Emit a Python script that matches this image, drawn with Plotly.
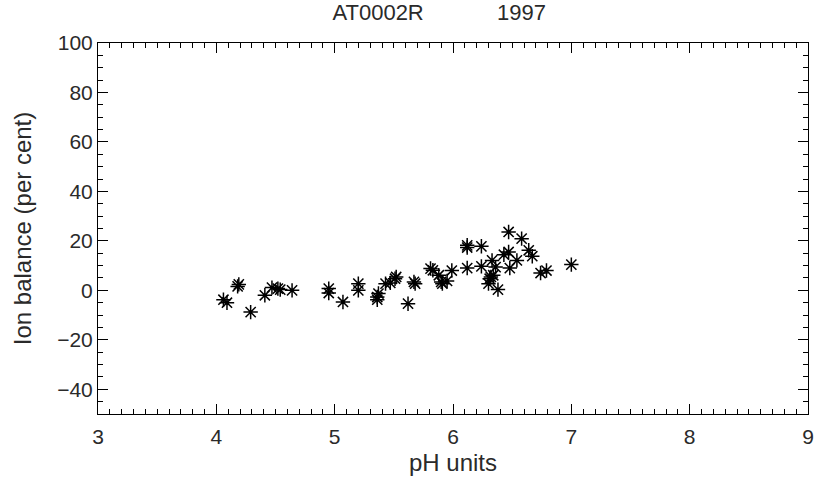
import plotly.graph_objects as go

# pH against ion balance
ph = [4.06, 4.09, 4.18, 4.19, 4.29, 4.41, 4.47, 4.52, 4.54, 4.64,
      4.95, 4.95, 5.07, 5.20, 5.20, 5.36, 5.36, 5.37, 5.43, 5.47,
      5.51, 5.52, 5.62, 5.67, 5.68, 5.81, 5.83, 5.88, 5.90, 5.91,
      5.95, 5.99, 6.12, 6.12, 6.12, 6.24, 6.24, 6.30, 6.31, 6.32,
      6.33, 6.34, 6.36, 6.38, 6.43, 6.47, 6.47, 6.48, 6.54, 6.58,
      6.64, 6.67, 6.74, 6.79, 7.00]
ion = [-3.8, -5.0, 1.6, 2.4, -8.8, -2.0, 1.1, 0.7, 0.3, 0.0,
       0.7, -1.1, -4.7, 2.7, 0.0, -2.7, -3.8, -1.3, 2.7, 3.0,
       4.7, 5.4, -5.4, 3.4, 2.7, 8.8, 8.1, 6.1, 3.4, 2.7,
       3.8, 8.0, 18.2, 17.3, 9.0, 17.8, 9.7, 2.7, 4.7, 5.4,
       12.1, 6.1, 9.4, 0.3, 14.4, 15.5, 23.6, 9.0, 12.1, 20.9,
       16.2, 13.8, 7.0, 8.0, 10.4]

FONT = 'Liberation Sans, DejaVu Sans, sans-serif'
INK = '#2a2a2a'

fig = go.Figure(go.Scatter(
    x=ph, y=ion,
    mode='markers',
    marker=dict(symbol='asterisk-open', size=12, color='black',
                line=dict(color='black', width=1.5)),
    hovertemplate='pH %{x:.2f}<br>%{y:.1f}%<extra></extra>',
))

axis = dict(
    showgrid=False, zeroline=False, automargin=False,
    showline=True, linecolor='black', linewidth=1, mirror='allticks',
    ticks='inside', ticklen=10, tickcolor='black',
    tickfont=dict(family=FONT, size=21, color=INK),
)

fig.update_layout(
    width=818, height=477,
    paper_bgcolor='white', plot_bgcolor='white',
    font=dict(family=FONT, color=INK),
    title=dict(text='AT0002R' + '\u00a0' * 12 + '1997',
               x=0.537, xanchor='center', y=0.99, yanchor='top',
               font=dict(family=FONT, size=22, color=INK)),
    xaxis=dict(axis, range=[3, 9], dtick=1, ticklabelstandoff=4,
               minor=dict(dtick=0.1, ticks='inside', ticklen=5, tickcolor='black'),
               title=dict(text='pH units', font=dict(family=FONT, size=24), standoff=6)),
    yaxis=dict(axis, range=[-50, 100], dtick=20, tick0=0,
               minor=dict(dtick=5, ticks='inside', ticklen=5, tickcolor='black'),
               title=dict(text='Ion balance (per cent)', font=dict(family=FONT, size=24),
                          standoff=18)),
    showlegend=False,
    margin=dict(l=98, r=10, t=43, b=63),
)

# the page's default body margin would shift the whole figure by 8px
fig.write_html("out.html", config={'displayModeBar': False},
               post_script="document.body.style.margin='0';")
